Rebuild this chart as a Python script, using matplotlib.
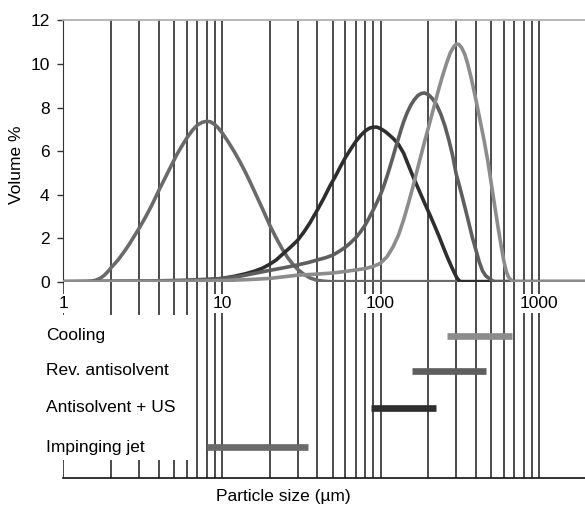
import matplotlib.pyplot as plt
from matplotlib.patches import Rectangle

plt.rcParams["font.family"] = ["Liberation Sans", "DejaVu Sans"]
plt.rcParams["font.size"] = 12.5

# particle size distributions: size (µm) vs volume %
impinging_size = [1, 1.4, 1.5, 1.6, 1.7, 1.8, 1.9, 2.0, 2.2, 2.4, 2.6, 2.8, 3.0, 3.3, 3.6, 4.0,
                  4.4, 4.8, 5.2, 5.6, 6.0, 6.5, 7.0, 7.5, 8.0, 8.5, 9.0, 9.5, 10, 11, 12, 13, 14,
                  15, 16.5, 18, 20, 22, 24, 26, 28, 30, 33, 36, 40, 44, 48, 1950]
impinging_vol = [0, 0, 0.02, 0.07, 0.15, 0.28, 0.45, 0.65, 0.98, 1.35, 1.72, 2.1, 2.45, 2.98,
                 3.5, 4.2, 4.8, 5.35, 5.85, 6.25, 6.6, 6.95, 7.2, 7.32, 7.37, 7.34, 7.22, 7.05,
                 6.85, 6.4, 5.95, 5.5, 5.05, 4.6, 3.95, 3.35, 2.6, 2.0, 1.5, 1.1, 0.8, 0.57, 0.33,
                 0.17, 0.06, 0.02, 0, 0]

as_us_size = [1, 5, 8, 10, 12, 14, 16, 18, 20, 22, 24, 27, 30, 33, 36, 40, 44, 48, 52, 56, 60,
              65, 70, 75, 80, 85, 90, 95, 100, 107, 114, 121, 130, 140, 150, 160, 175, 190, 204,
              220, 235, 250, 265, 280, 292, 302, 312, 320, 1950]
as_us_vol = [0, 0.03, 0.08, 0.15, 0.25, 0.36, 0.48, 0.62, 0.8, 1.0, 1.25, 1.58, 1.9, 2.3, 2.72,
             3.3, 3.85, 4.4, 4.85, 5.3, 5.7, 6.1, 6.45, 6.72, 6.92, 7.05, 7.1, 7.1, 7.03, 6.9,
             6.73, 6.56, 6.3, 5.9, 5.35, 4.85, 4.2, 3.6, 3.1, 2.55, 2.05, 1.55, 1.1, 0.7, 0.42,
             0.2, 0.06, 0, 0]

rev_size = [1, 3, 6, 10, 13, 16, 20, 25, 30, 35, 40, 45, 50, 55, 60, 65, 70, 75, 80, 85, 90,
            95, 100, 105, 110, 115, 120, 125, 130, 135, 140, 147, 155, 163, 172, 180, 189, 200,
            212, 225, 240, 255, 270, 285, 300, 320, 340, 360, 380, 400, 420, 440, 460, 490, 520,
            1950]
rev_vol = [0, 0.02, 0.07, 0.14, 0.25, 0.38, 0.52, 0.65, 0.77, 0.88, 1.0, 1.1, 1.22, 1.4, 1.58,
           1.8, 2.03, 2.3, 2.6, 2.95, 3.3, 3.65, 4.0, 4.4, 4.85, 5.3, 5.75, 6.2, 6.6, 7.0, 7.35,
           7.75, 8.1, 8.35, 8.55, 8.64, 8.67, 8.6, 8.42, 8.15, 7.7, 7.15, 6.5, 5.8, 4.95, 4.2,
           3.45, 2.72, 2.02, 1.45, 0.9, 0.5, 0.28, 0.12, 0, 0]

cooling_size = [1, 5, 10, 15, 20, 30, 40, 50, 60, 70, 80, 90, 100, 110, 120, 130, 140, 150,
                160, 170, 180, 190, 200, 215, 230, 245, 260, 275, 290, 301, 312, 325, 340, 355,
                375, 400, 425, 450, 475, 500, 525, 550, 575, 600, 620, 640, 660, 690, 1950]
cooling_vol = [0, 0.02, 0.05, 0.1, 0.15, 0.3, 0.35, 0.4, 0.47, 0.54, 0.6, 0.7, 0.85, 1.15, 1.6,
               2.15, 2.85, 3.6, 4.35, 5.1, 5.8, 6.45, 7.05, 7.9, 8.7, 9.4, 10.0, 10.5, 10.8,
               10.92, 10.9, 10.75, 10.45, 10.0, 9.3, 8.35, 7.4, 6.5, 5.55, 4.5, 3.5, 2.55, 1.7,
               0.95, 0.5, 0.23, 0.1, 0, 0]

# size ranges shown as bars under the plot
range_labels = ["Cooling", "Rev. antisolvent", "Antisolvent + US", "Impinging jet"]
range_low = [261, 158, 87, 8.0]
range_high = [676, 461, 223, 35]
range_colors = ["#8c8c8c", "#5e5e5e", "#2e2e2e", "#6a6a6a"]

size_ticks = [1, 10, 100, 1000]
size_tick_labels = ["1", "10", "100", "1000"]
grid_sizes = [m * 10 ** e for e in range(3) for m in range(1, 10)] + [1000]

LINE_COLOR = "#1a1a1a"

fig = plt.figure(figsize=(5.85, 5.08), dpi=100)
ax = fig.add_axes([0.1085, 0.4455, 0.8915, 0.5142])
ax2 = fig.add_axes([0.1085, 0.0591, 0.8915, 0.3864])

# upper panel: distributions
ax.vlines(grid_sizes[1:], 0, 12, color=LINE_COLOR, lw=1.1, zorder=1)
curve_style = dict(lw=2.6, zorder=3, solid_joinstyle="round", solid_capstyle="round")
ax.plot(impinging_size, impinging_vol, color="#6a6a6a", **curve_style)
ax.plot(as_us_size, as_us_vol, color="#2e2e2e", **curve_style)
ax.plot(rev_size, rev_vol, color="#5e5e5e", **curve_style)
ax.plot(cooling_size, cooling_vol, color="#8c8c8c", **curve_style)

ax.set_xscale("log")
ax.set_xlim(1, 1950)
ax.set_ylim(0, 12)
ax.set_yticks(range(0, 13, 2))
ax.set_xticks([])
ax.minorticks_off()
ax.tick_params(axis="y", direction="out", length=4, width=1, color="#333333", pad=6)
for side in ("right", "bottom"):
    ax.spines[side].set_visible(False)
ax.spines["left"].set_color("#333333")
ax.spines["top"].set_color("#b0b0b0")
ax.spines["top"].set_linewidth(1.3)

# lower panel: size ranges
ax2.set_xscale("log")
ax2.set_xlim(1, 1950)
ax2.set_ylim(0, 1)
ax2.set_xticks([])
ax2.set_yticks([])
ax2.minorticks_off()
ax2.patch.set_alpha(0)
for side in ("left", "right", "top"):
    ax2.spines[side].set_visible(False)
ax2.spines["bottom"].set_color("#111111")
ax2.spines["bottom"].set_linewidth(1.2)

ax2.vlines(grid_sizes, 0, 1, color=LINE_COLOR, lw=1.1, zorder=1)
ax2.add_patch(Rectangle((-0.1, 0.092), 0.348, 0.738, transform=ax2.transAxes,
                        facecolor="white", edgecolor="none", zorder=2, clip_on=False))

xtrans = ax2.get_xaxis_transform()
for val, lbl in zip(size_ticks, size_tick_labels):
    ax2.text(val, 0.89, lbl, transform=xtrans, ha="center", va="center", zorder=4,
             bbox=dict(boxstyle="square,pad=0.12", facecolor="white", edgecolor="none"))

row_y = [0.725, 0.545, 0.357, 0.157]
for y, lbl, lo, hi, col in zip(row_y, range_labels, range_low, range_high, range_colors):
    ax2.plot([lo, hi], [y, y], color=col, lw=4.8, solid_capstyle="butt", zorder=3)
    ax2.text(-0.034, y, lbl, transform=ax2.get_yaxis_transform(), ha="left", va="center",
             zorder=4, clip_on=False)

fig.text(17 / 585, 1 - 165 / 508, "Volume %", rotation=90, ha="center", va="center")
fig.text(283.5 / 585, 1 - 497 / 508, "Particle size (µm)", ha="center", va="center")

fig.savefig("out.png", dpi=100)
